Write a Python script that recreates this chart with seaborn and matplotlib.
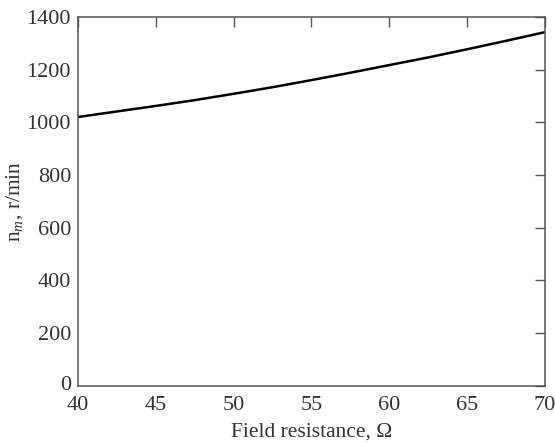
import numpy as np
import pandas as pd
import seaborn as sns
import matplotlib
matplotlib.use("Agg")
import matplotlib.pyplot as plt
import matplotlib.transforms as mtransforms

# values
field_resistance = [40, 42.5, 45, 47.5, 50, 52.5, 55, 57.5, 60, 62.5, 65, 67.5, 70]
speed = [1020, 1041, 1062, 1084, 1108, 1133, 1160, 1188, 1217, 1246, 1277, 1309, 1342]

x_ticks = [40, 45, 50, 55, 60, 65, 70]
y_ticks = [0, 200, 400, 600, 800, 1000, 1200, 1400]

df = pd.DataFrame({"R": field_resistance, "n": speed})

sns.set_theme(style="white")
plt.rcParams["font.family"] = ["Liberation Serif", "DejaVu Serif"]
plt.rcParams["mathtext.fontset"] = "custom"
plt.rcParams["mathtext.rm"] = "Liberation Serif"
plt.rcParams["mathtext.it"] = "Liberation Serif:italic"

fig = plt.figure(figsize=(5.55, 4.43), dpi=100)
ax = fig.add_axes([0.1405, 0.129, 0.8415, 0.833])

sns.lineplot(data=df, x="R", y="n", color="black", linewidth=1.8, ax=ax)

ax.set_xlim(40, 70)
ax.set_ylim(0, 1400)
ax.set_xticks(x_ticks)
ax.set_yticks(y_ticks)
ax.tick_params(direction="in", length=7, width=1, color="#555555",
               top=True, right=True, labelsize=16, labelcolor="#333333")
ax.tick_params(axis="x", pad=7)
ax.tick_params(axis="y", pad=5)

# the "0" on the y axis sits a little higher in the reference
zero_lbl = ax.get_yticklabels()[0]
zero_lbl.set_transform(zero_lbl.get_transform() +
                       mtransforms.ScaledTranslation(0, 3 / 100, fig.dpi_scale_trans))

for s in ax.spines.values():
    s.set_color("#555555")
    s.set_linewidth(1.1)

ax.set_xlabel("Field resistance, Ω", fontsize=15.5, color="#333333", labelpad=6)
ax.set_ylabel(r"n$_{m}$, r/min", fontsize=15.5, color="#333333")
ax.yaxis.set_label_coords(-0.113, 0.5)

fig.savefig("out.png", dpi=100, facecolor="white")
